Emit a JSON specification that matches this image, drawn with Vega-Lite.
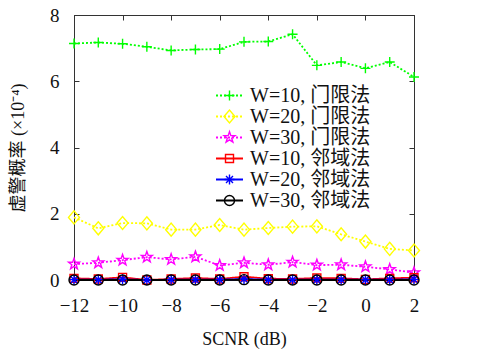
{
  "$schema": "https://vega.github.io/schema/vega-lite/v6.json",
  "width": 340,
  "height": 265,
  "autosize": "none",
  "padding": {"left": 74, "top": 15, "right": 72, "bottom": 72},
  "config": {
    "view": {"stroke": "#333", "strokeWidth": 1},
    "axis": {
      "domainColor": "#333", "tickColor": "#333", "grid": false, "tickSize": -5,
      "labelFont": "Liberation Serif", "labelFontSize": 19, "labelColor": "#111",
      "titleFont": "Liberation Serif", "titleFontSize": 18, "titleFontWeight": "normal", "titleColor": "#111"
    }
  },
  "data": {"values": [
    {"x": -12, "y": 7.14, "s": "W=10, 门限法", "o": 1}, {"x": -11, "y": 7.17, "s": "W=10, 门限法", "o": 1}, {"x": -10, "y": 7.13, "s": "W=10, 门限法", "o": 1}, {"x": -9, "y": 7.04, "s": "W=10, 门限法", "o": 1}, {"x": -8, "y": 6.93, "s": "W=10, 门限法", "o": 1}, {"x": -7, "y": 6.96, "s": "W=10, 门限法", "o": 1}, {"x": -6, "y": 6.97, "s": "W=10, 门限法", "o": 1}, {"x": -5, "y": 7.19, "s": "W=10, 门限法", "o": 1}, {"x": -4, "y": 7.2, "s": "W=10, 门限法", "o": 1}, {"x": -3, "y": 7.42, "s": "W=10, 门限法", "o": 1}, {"x": -2, "y": 6.48, "s": "W=10, 门限法", "o": 1}, {"x": -1, "y": 6.58, "s": "W=10, 门限法", "o": 1}, {"x": 0, "y": 6.39, "s": "W=10, 门限法", "o": 1}, {"x": 1, "y": 6.58, "s": "W=10, 门限法", "o": 1}, {"x": 2, "y": 6.13, "s": "W=10, 门限法", "o": 1},
    {"x": -12, "y": 1.89, "s": "W=20, 门限法", "o": 2}, {"x": -11, "y": 1.56, "s": "W=20, 门限法", "o": 2}, {"x": -10, "y": 1.72, "s": "W=20, 门限法", "o": 2}, {"x": -9, "y": 1.71, "s": "W=20, 门限法", "o": 2}, {"x": -8, "y": 1.52, "s": "W=20, 门限法", "o": 2}, {"x": -7, "y": 1.52, "s": "W=20, 门限法", "o": 2}, {"x": -6, "y": 1.66, "s": "W=20, 门限法", "o": 2}, {"x": -5, "y": 1.52, "s": "W=20, 门限法", "o": 2}, {"x": -4, "y": 1.57, "s": "W=20, 门限法", "o": 2}, {"x": -3, "y": 1.61, "s": "W=20, 门限法", "o": 2}, {"x": -2, "y": 1.62, "s": "W=20, 门限法", "o": 2}, {"x": -1, "y": 1.38, "s": "W=20, 门限法", "o": 2}, {"x": 0, "y": 1.16, "s": "W=20, 门限法", "o": 2}, {"x": 1, "y": 0.94, "s": "W=20, 门限法", "o": 2}, {"x": 2, "y": 0.89, "s": "W=20, 门限法", "o": 2},
    {"x": -12, "y": 0.48, "s": "W=30, 门限法", "o": 3}, {"x": -11, "y": 0.52, "s": "W=30, 门限法", "o": 3}, {"x": -10, "y": 0.6, "s": "W=30, 门限法", "o": 3}, {"x": -9, "y": 0.69, "s": "W=30, 门限法", "o": 3}, {"x": -8, "y": 0.62, "s": "W=30, 门限法", "o": 3}, {"x": -7, "y": 0.7, "s": "W=30, 门限法", "o": 3}, {"x": -6, "y": 0.44, "s": "W=30, 门限法", "o": 3}, {"x": -5, "y": 0.52, "s": "W=30, 门限法", "o": 3}, {"x": -4, "y": 0.46, "s": "W=30, 门限法", "o": 3}, {"x": -3, "y": 0.54, "s": "W=30, 门限法", "o": 3}, {"x": -2, "y": 0.45, "s": "W=30, 门限法", "o": 3}, {"x": -1, "y": 0.46, "s": "W=30, 门限法", "o": 3}, {"x": 0, "y": 0.4, "s": "W=30, 门限法", "o": 3}, {"x": 1, "y": 0.32, "s": "W=30, 门限法", "o": 3}, {"x": 2, "y": 0.22, "s": "W=30, 门限法", "o": 3},
    {"x": -12, "y": 0.05, "s": "W=10, 邻域法", "o": 4}, {"x": -11, "y": 0.03, "s": "W=10, 邻域法", "o": 4}, {"x": -10, "y": 0.08, "s": "W=10, 邻域法", "o": 4}, {"x": -9, "y": 0.0, "s": "W=10, 邻域法", "o": 4}, {"x": -8, "y": 0.03, "s": "W=10, 邻域法", "o": 4}, {"x": -7, "y": 0.06, "s": "W=10, 邻域法", "o": 4}, {"x": -6, "y": 0.03, "s": "W=10, 邻域法", "o": 4}, {"x": -5, "y": 0.1, "s": "W=10, 邻域法", "o": 4}, {"x": -4, "y": 0.04, "s": "W=10, 邻域法", "o": 4}, {"x": -3, "y": 0.03, "s": "W=10, 邻域法", "o": 4}, {"x": -2, "y": 0.06, "s": "W=10, 邻域法", "o": 4}, {"x": -1, "y": 0.05, "s": "W=10, 邻域法", "o": 4}, {"x": 0, "y": 0.02, "s": "W=10, 邻域法", "o": 4}, {"x": 1, "y": 0.05, "s": "W=10, 邻域法", "o": 4}, {"x": 2, "y": 0.07, "s": "W=10, 邻域法", "o": 4},
    {"x": -12, "y": 0.01, "s": "W=20, 邻域法", "o": 5}, {"x": -11, "y": 0.01, "s": "W=20, 邻域法", "o": 5}, {"x": -10, "y": 0.02, "s": "W=20, 邻域法", "o": 5}, {"x": -9, "y": 0.0, "s": "W=20, 邻域法", "o": 5}, {"x": -8, "y": 0.01, "s": "W=20, 邻域法", "o": 5}, {"x": -7, "y": 0.01, "s": "W=20, 邻域法", "o": 5}, {"x": -6, "y": 0.01, "s": "W=20, 邻域法", "o": 5}, {"x": -5, "y": 0.03, "s": "W=20, 邻域法", "o": 5}, {"x": -4, "y": 0.01, "s": "W=20, 邻域法", "o": 5}, {"x": -3, "y": 0.01, "s": "W=20, 邻域法", "o": 5}, {"x": -2, "y": 0.01, "s": "W=20, 邻域法", "o": 5}, {"x": -1, "y": 0.01, "s": "W=20, 邻域法", "o": 5}, {"x": 0, "y": 0.01, "s": "W=20, 邻域法", "o": 5}, {"x": 1, "y": 0.01, "s": "W=20, 邻域法", "o": 5}, {"x": 2, "y": 0.02, "s": "W=20, 邻域法", "o": 5},
    {"x": -12, "y": 0.0, "s": "W=30, 邻域法", "o": 6}, {"x": -11, "y": 0.0, "s": "W=30, 邻域法", "o": 6}, {"x": -10, "y": 0.0, "s": "W=30, 邻域法", "o": 6}, {"x": -9, "y": 0.0, "s": "W=30, 邻域法", "o": 6}, {"x": -8, "y": 0.0, "s": "W=30, 邻域法", "o": 6}, {"x": -7, "y": 0.0, "s": "W=30, 邻域法", "o": 6}, {"x": -6, "y": 0.0, "s": "W=30, 邻域法", "o": 6}, {"x": -5, "y": 0.01, "s": "W=30, 邻域法", "o": 6}, {"x": -4, "y": 0.0, "s": "W=30, 邻域法", "o": 6}, {"x": -3, "y": 0.0, "s": "W=30, 邻域法", "o": 6}, {"x": -2, "y": 0.0, "s": "W=30, 邻域法", "o": 6}, {"x": -1, "y": 0.0, "s": "W=30, 邻域法", "o": 6}, {"x": 0, "y": 0.0, "s": "W=30, 邻域法", "o": 6}, {"x": 1, "y": 0.0, "s": "W=30, 邻域法", "o": 6}, {"x": 2, "y": 0.0, "s": "W=30, 邻域法", "o": 6}
  ]},
  "layer": [
    {
      "mark": {"type": "line", "strokeWidth": 1.8, "clip": false},
      "encoding": {
        "x": {"field": "x", "type": "quantitative", "scale": {"domain": [-12, 2], "nice": false},
              "axis": {"orient": "bottom", "values": [-12, -10, -8, -6, -4, -2, 0, 2], "title": "SCNR (dB)", "labelPadding": 21, "titlePadding": 15, "labelFlush": false}},
        "y": {"field": "y", "type": "quantitative", "scale": {"domain": [0, 8], "nice": false},
              "axis": {"orient": "left", "values": [0, 2, 4, 6, 8], "title": "虚警概率 (×10⁻⁴)", "titleFont": "Liberation Serif, Noto Sans CJK SC", "titleFontSize": 18, "labelPadding": 20, "titlePadding": 22}},
        "color": {"field": "s", "type": "nominal",
                  "scale": {"domain": ["W=10, 门限法", "W=20, 门限法", "W=30, 门限法", "W=10, 邻域法", "W=20, 邻域法", "W=30, 邻域法"],
                            "range": ["#00ff00", "#ffff00", "#ff00ff", "#ff0000", "#0000ff", "#000000"]},
                  "legend": {"orient": "none", "legendX": 145.5, "legendY": 70.5, "title": null, "padding": 0, "symbolType": "M-2.7,0L2.7,0", "symbolSize": 100, "symbolStrokeWidth": 1.8, "labelFont": "Liberation Serif, Noto Sans CJK SC", "labelFontSize": 20, "labelColor": "#111", "labelOffset": 10.5, "rowPadding": 1}},
        "strokeDash": {"field": "s", "type": "nominal",
                  "scale": {"domain": ["W=10, 门限法", "W=20, 门限法", "W=30, 门限法", "W=10, 邻域法", "W=20, 邻域法", "W=30, 邻域法"],
                            "range": [[2, 2], [2, 2], [2, 2], [1, 0], [1, 0], [1, 0]]},
                  "legend": {"orient": "none", "legendX": 145.5, "legendY": 70.5, "title": null, "padding": 0, "symbolType": "M-2.7,0L2.7,0", "symbolSize": 100, "symbolStrokeWidth": 1.8, "labelFont": "Liberation Serif, Noto Sans CJK SC", "labelFontSize": 20, "labelColor": "#111", "labelOffset": 10.5, "rowPadding": 1}}
      }
    },
    {
      "mark": {"type": "point", "filled": false, "size": 100, "strokeWidth": 1.4, "opacity": 1, "clip": false},
      "encoding": {
        "x": {"field": "x", "type": "quantitative", "axis": {"orient": "top", "values": [-12, -10, -8, -6, -4, -2, 0, 2], "labels": false, "title": null}},
        "y": {"field": "y", "type": "quantitative", "axis": {"orient": "right", "values": [0, 2, 4, 6, 8], "labels": false, "title": null}},
        "color": {"field": "s", "type": "nominal",
                  "scale": {"domain": ["W=10, 门限法", "W=20, 门限法", "W=30, 门限法", "W=10, 邻域法", "W=20, 邻域法", "W=30, 邻域法"],
                            "range": ["#00ff00", "#ffff00", "#ff00ff", "#ff0000", "#0000ff", "#000000"]},
                  "legend": null},
        "shape": {"field": "s", "type": "nominal", "sort": {"field": "o", "op": "min"},
                  "scale": {"range": ["M-1,0L1,0M0,-1L0,1", "M-1.1,0L0,-1.3L1.1,0L0,1.3Z", "M0,-1.15L0.27,-0.37L1.09,-0.36L0.44,0.14L0.68,0.93L0,0.46L-0.68,0.93L-0.44,0.14L-1.09,-0.36L-0.27,-0.37Z", "M-0.8,-0.8H0.8V0.8H-0.8Z", "M-1,0L1,0M0,-1L0,1M-0.7,-0.7L0.7,0.7M-0.7,0.7L0.7,-0.7", "circle"]},
                  "legend": {"orient": "none", "legendX": 145.5, "legendY": 70.5, "title": null, "padding": 0, "symbolSize": 100, "symbolStrokeWidth": 1.4, "symbolFillColor": "transparent", "symbolStrokeColor": {"expr": "scale('color', datum.value)"}, "labelFont": "Liberation Serif, Noto Sans CJK SC", "labelFontSize": 20, "labelOpacity": 0, "labelOffset": 10.5, "rowPadding": 1}}
      }
    }
  ]
}
